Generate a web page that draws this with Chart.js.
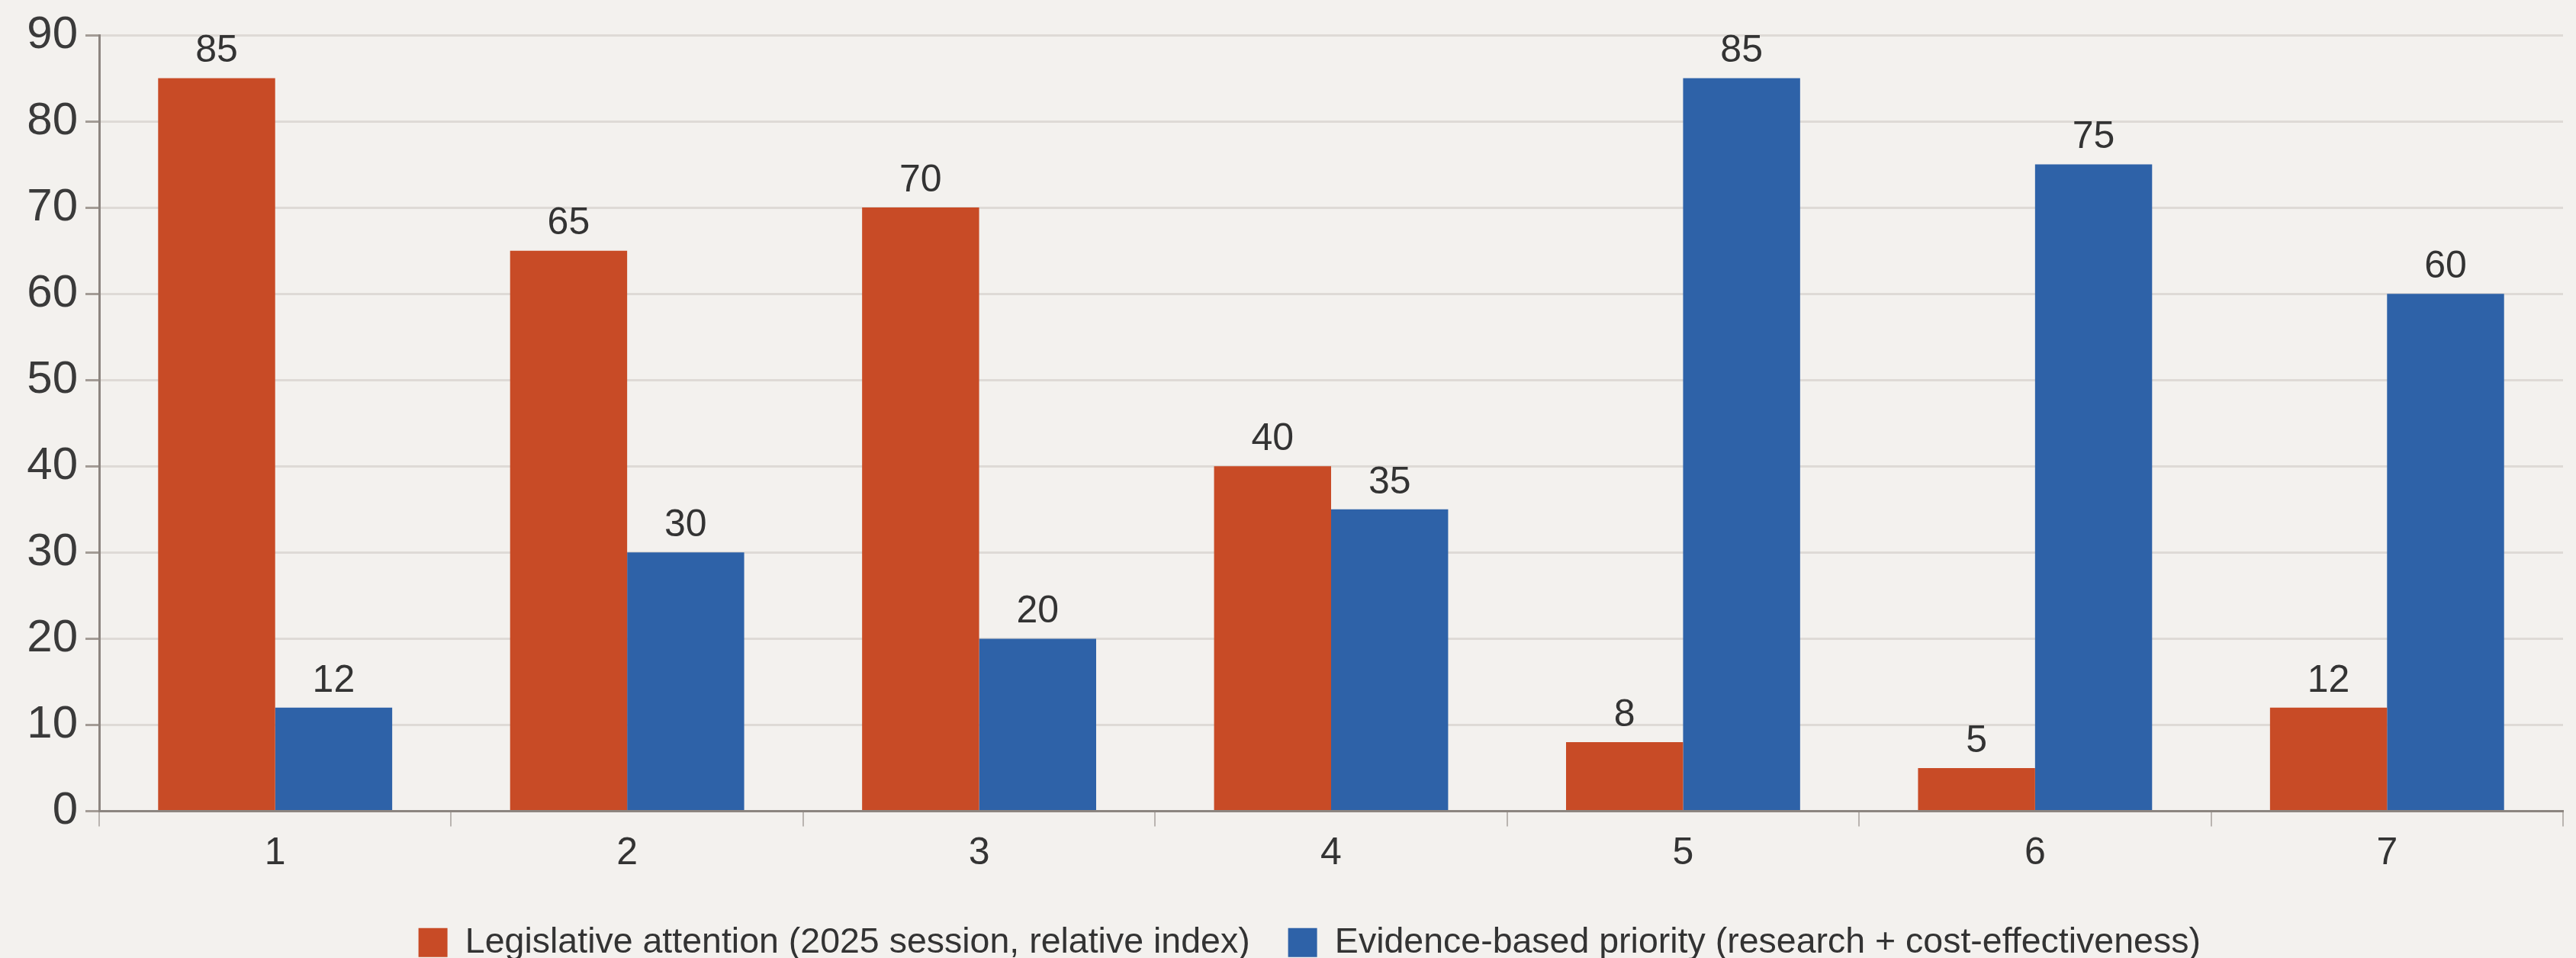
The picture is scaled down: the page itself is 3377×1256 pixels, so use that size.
<!DOCTYPE html>
<html>
<head>
<meta charset="utf-8">
<script src="https://cdn.jsdelivr.net/npm/chart.js@4.4.1/dist/chart.umd.min.js"></script>
<style>
  html, body { margin: 0; padding: 0; background: #f3f1ee; }
  #wrap { width: 3377px; height: 1256px; }
</style>
</head>
<body>
<div id="wrap"><canvas id="c" width="3377" height="1256"></canvas></div>
<script>
const categories = ['1', '2', '3', '4', '5', '6', '7'];
const legislativeAttention = [85, 65, 70, 40, 8, 5, 12];
const evidencePriority = [12, 30, 20, 35, 85, 75, 60];
const seriesNames = [
  'Legislative attention (2025 session, relative index)',
  'Evidence-based priority (research + cost-effectiveness)'
];
const yTicks = [0, 10, 20, 30, 40, 50, 60, 70, 80, 90];

const FONT = "'Liberation Sans', Arial, sans-serif";

// Value labels above each bar
const barValueLabels = {
  id: 'barValueLabels',
  afterDatasetsDraw(chart) {
    const ctx = chart.ctx;
    ctx.save();
    ctx.font = `50px ${FONT}`;
    ctx.fillStyle = '#333333';
    ctx.textAlign = 'center';
    ctx.textBaseline = 'bottom';
    chart.data.datasets.forEach((ds, i) => {
      const meta = chart.getDatasetMeta(i);
      meta.data.forEach((bar, j) => {
        ctx.fillText(String(ds.data[j]), bar.x, bar.y - 10);
      });
    });
    ctx.restore();
  }
};

// Nudge the legend so it sits between the canvas centre and the plot centre
const legendPlacement = {
  id: 'legendPlacement',
  afterLayout(chart) {
    const lg = chart.legend;
    if (!lg) return;
    const plotMid = (chart.chartArea.left + chart.chartArea.right) / 2;
    const target = (plotMid + chart.width / 2) / 2;
    const shift = target - (lg.left + lg.right) / 2;
    lg.left += shift;
    lg.right += shift;
    if (lg.adjustHitBoxes) lg.adjustHitBoxes();
  }
};

new Chart(document.getElementById('c'), {
  type: 'bar',
  data: {
    labels: categories,
    datasets: [
      {
        label: seriesNames[0],
        data: legislativeAttention,
        backgroundColor: '#c84b26',
        borderWidth: 0,
        categoryPercentage: 0.665,
        barPercentage: 1.0
      },
      {
        label: seriesNames[1],
        data: evidencePriority,
        backgroundColor: '#2e62a8',
        borderWidth: 0,
        categoryPercentage: 0.665,
        barPercentage: 1.0
      }
    ]
  },
  options: {
    responsive: false,
    animation: false,
    devicePixelRatio: 1,
    layout: { padding: { top: 15, right: 17, left: 0, bottom: -13 } },
    plugins: {
      legend: {
        position: 'bottom',
        labels: {
          font: { family: FONT, size: 46.5 },
          color: '#333333',
          boxWidth: 38,
          boxHeight: 38,
          padding: 50
        }
      },
      tooltip: { enabled: false }
    },
    scales: {
      x: {
        afterFit(scale) { scale.height += 7; },
        grid: {
          drawOnChartArea: false,
          drawTicks: true,
          tickLength: 20,
          color: '#b9b4b0',
          lineWidth: 2,
          offset: true
        },
        border: { color: '#8c8580', width: 3 },
        ticks: {
          font: { family: FONT, size: 50 },
          color: '#333333',
          padding: 6
        }
      },
      y: {
        min: 0,
        max: 90,
        afterBuildTicks(scale) {
          scale.ticks = yTicks.map(v => ({ value: v }));
        },
        afterFit(scale) { scale.width = 130; },
        grid: {
          color: '#dedad6',
          lineWidth: 3,
          tickLength: 18,
          tickColor: '#a39c96'
        },
        border: { color: '#8c8580', width: 3 },
        ticks: {
          font: { family: FONT, size: 60 },
          color: '#3a3a3a',
          padding: 10
        }
      }
    }
  },
  plugins: [barValueLabels, legendPlacement]
});
</script>
</body>
</html>
